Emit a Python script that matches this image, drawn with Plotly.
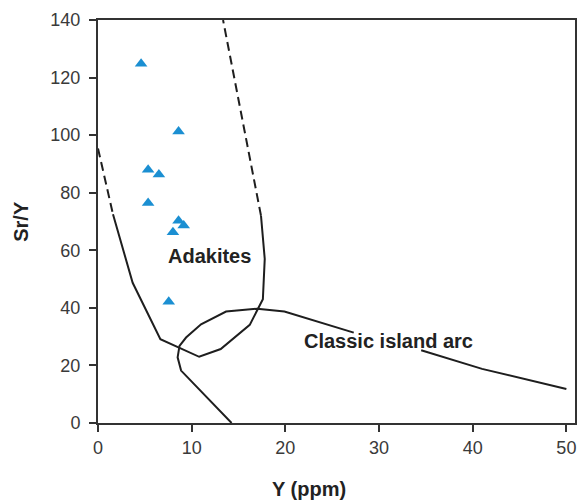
import plotly.graph_objects as go

# Samples (Y ppm, Sr/Y)
sample_y = [4.6, 8.6, 5.35, 6.5, 5.35, 8.6, 9.15, 8.0, 7.55]
sample_sry = [124.8, 101.3, 88.0, 86.3, 76.4, 70.3, 68.6, 66.3, 42.1]

# Adakite field boundary
adakite_dash1_x = [0.0, 1.6]
adakite_dash1_y = [95.4, 72.5]
adakite_solid_x = [1.6, 3.7, 6.66, 10.8, 13.1, 16.2, 17.6, 17.8, 17.4]
adakite_solid_y = [72.5, 48.7, 29.1, 23.0, 25.7, 34.1, 43.0, 57.0, 72.0]
adakite_dash2_x = [17.4, 13.35]
adakite_dash2_y = [72.0, 140.0]

# Classic island arc field boundary (gap where the label sits)
arc_x = [14.26, 8.87, 8.5, 8.7, 9.4, 11.0, 13.67, 17.0, 19.9, 27.3, None, 34.5, 41.0, 50.0]
arc_y = [0.0, 18.2, 22.8, 26.8, 29.7, 34.3, 38.7, 39.7, 38.7, 31.4, None, 25.3, 18.8, 11.8]

x_ticks = [0, 10, 20, 30, 40, 50]
y_ticks = [0, 20, 40, 60, 80, 100, 120, 140]

FONT = "Liberation Sans, Arial, sans-serif"
LINE = "#1e1e1e"

fig = go.Figure()
fig.add_trace(go.Scatter(x=adakite_dash1_x, y=adakite_dash1_y, mode="lines",
                         line=dict(color=LINE, width=2, dash="9px,5px"), hoverinfo="skip"))
fig.add_trace(go.Scatter(x=adakite_solid_x, y=adakite_solid_y, mode="lines",
                         line=dict(color=LINE, width=2), hoverinfo="skip"))
fig.add_trace(go.Scatter(x=adakite_dash2_x, y=adakite_dash2_y, mode="lines",
                         line=dict(color=LINE, width=2, dash="9px,5px"), hoverinfo="skip"))
fig.add_trace(go.Scatter(x=arc_x, y=arc_y, mode="lines",
                         line=dict(color=LINE, width=2), connectgaps=False, hoverinfo="skip"))
fig.add_trace(go.Scatter(x=sample_y, y=sample_sry, mode="markers",
                         marker=dict(symbol="triangle-up", size=11, color="#1b8fd2")))

fig.add_annotation(x=11.9, y=58, text="<b>Adakites</b>", showarrow=False,
                   font=dict(family=FONT, size=20, color="#222"))
fig.add_annotation(x=31.0, y=28.6, text="<b>Classic island arc</b>", showarrow=False,
                   font=dict(family=FONT, size=20, color="#222"))
fig.add_annotation(xref="paper", yref="paper", x=(310.5 - 98.5) / (576.7 - 98.5), y=-0.163,
                   text="<b>Y (ppm)</b>", showarrow=False, yanchor="middle",
                   font=dict(family=FONT, size=20, color="#222"))
fig.add_annotation(xref="paper", yref="paper", x=-0.163, y=0.5, textangle=-90,
                   text="<b>Sr/Y</b>", showarrow=False, xanchor="center",
                   font=dict(family=FONT, size=20, color="#222"))

axis_common = dict(showline=True, linecolor="#333", linewidth=2, mirror=True,
                   ticks="outside", ticklen=7, tickwidth=2, tickcolor="#333",
                   showgrid=False, zeroline=False,
                   tickfont=dict(family=FONT, size=18, color="#3a3a3a"))
fig.update_xaxes(range=[0, 50.92], tickvals=x_ticks, **axis_common)
fig.update_yaxes(range=[0, 140], tickvals=y_ticks, ticklabelstandoff=5, **axis_common)

fig.update_layout(width=583, height=502, showlegend=False,
                  margin=dict(l=98, r=6, t=20, b=79),
                  plot_bgcolor="white", paper_bgcolor="white")

fig.write_html("out.html")
